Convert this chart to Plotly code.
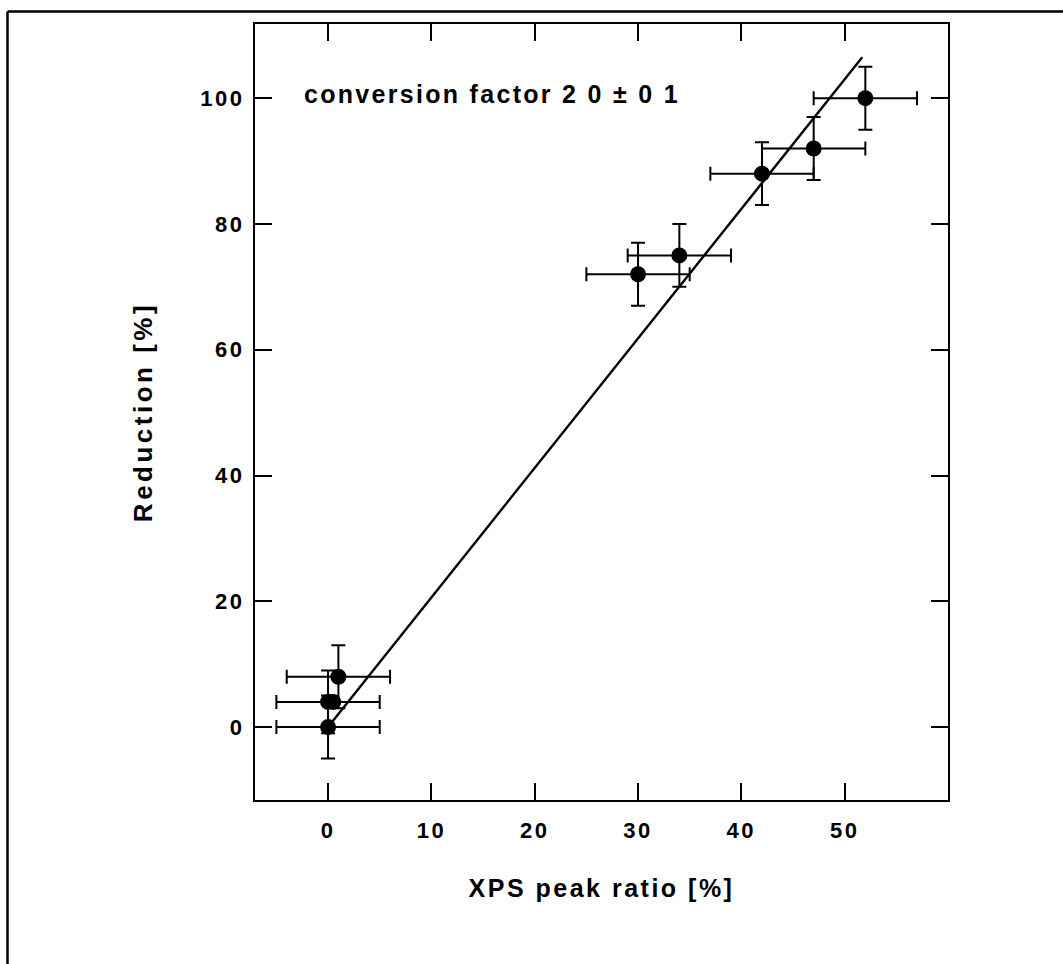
import plotly.graph_objects as go

# data
xps_ratio = [0.0, 0.0, 0.5, 1.0, 30.0, 34.0, 42.0, 47.0, 52.0]
reduction = [0.0, 4.0, 4.0, 8.0, 72.0, 75.0, 88.0, 92.0, 100.0]
x_err = [5, 5, 0, 5, 5, 5, 5, 5, 5]
y_err = [5, 5, 0, 5, 5, 5, 5, 5, 5]

fit_x = [0.0, 51.7]
fit_y = [0.0, 106.5]

x_ticks = [0, 10, 20, 30, 40, 50]
y_ticks = [0, 20, 40, 60, 80, 100]

FONT = "Liberation Sans, Arial, Helvetica, sans-serif"

fig = go.Figure()

fig.add_trace(go.Scatter(
    x=fit_x, y=fit_y, mode="lines",
    line=dict(color="black", width=2.4),
    showlegend=False, hoverinfo="skip",
))

fig.add_trace(go.Scatter(
    x=xps_ratio, y=reduction, mode="markers",
    marker=dict(color="black", size=16, symbol="circle"),
    error_x=dict(type="data", array=x_err, visible=True, color="black",
                 thickness=2, width=7),
    error_y=dict(type="data", array=y_err, visible=True, color="black",
                 thickness=2, width=7),
    showlegend=False,
))

axis_common = dict(
    showline=True, linecolor="black", linewidth=2.2,
    ticks="inside", ticklen=17, tickwidth=2, tickcolor="black",
    mirror="ticks", showgrid=False, zeroline=False,
    tickfont=dict(family=FONT, size=22, color="black", weight="bold"),
)

fig.update_layout(
    width=1063, height=964,
    margin=dict(l=255, r=115, t=24, b=164),
    paper_bgcolor="white", plot_bgcolor="white",
    font=dict(family=FONT, color="black"),
    xaxis=dict(
        range=[-7.07, 60.0], tickvals=x_ticks,
        ticktext=[str(v) for v in x_ticks],
        title=dict(text="XPS peak ratio [%]",
                   font=dict(family=FONT, size=25, weight="bold"),
                   standoff=38),
        ticklabelstandoff=9,
        **axis_common,
    ),
    yaxis=dict(
        range=[-11.6, 111.8], tickvals=y_ticks,
        ticktext=[str(v) for v in y_ticks],
        title=dict(text="Reduction [%]",
                   font=dict(family=FONT, size=26, weight="bold"),
                   standoff=48),
        ticklabelstandoff=4,
        **axis_common,
    ),
    annotations=[dict(
        text="conversion factor 2 0 ± 0 1",
        xref="paper", yref="paper",
        x=(302 - 255) / 693, y=(800 - 94) / 776,
        xanchor="left", yanchor="middle", align="left", showarrow=False,
        font=dict(family=FONT, size=25, color="black", weight="bold"),
    )],
    shapes=[
        dict(type="line", xref="paper", yref="paper",
             x0=(7.5 - 255) / 693, x1=(1070 - 255) / 693,
             y0=(800 - 11.5) / 776, y1=(800 - 11.5) / 776,
             line=dict(color="black", width=2.5)),
        dict(type="line", xref="paper", yref="paper",
             x0=(7.5 - 255) / 693, x1=(7.5 - 255) / 693,
             y0=(800 - 11.5) / 776, y1=(800 - 970) / 776,
             line=dict(color="black", width=2.5)),
    ],
)

post_js = """
document.body.style.margin = '0';
function spaceText() {
  document.querySelectorAll('.xtick text, .ytick text').forEach(function (t) {
    t.style.letterSpacing = '2.5px';
  });
  document.querySelectorAll('text.xtitle').forEach(function (t) {
    t.style.letterSpacing = '2.5px';
  });
  document.querySelectorAll('text.ytitle').forEach(function (t) {
    t.style.letterSpacing = '3.5px';
  });
  document.querySelectorAll('text.annotation-text').forEach(function (t) {
    t.style.letterSpacing = '2.3px';
  });
}
spaceText();
setTimeout(spaceText, 50);
var gd = document.getElementById('{plot_id}');
if (gd && gd.on) { gd.on('plotly_afterplot', spaceText); }
"""

fig.write_html("out.html", post_script=post_js,
               config={"displayModeBar": False})
